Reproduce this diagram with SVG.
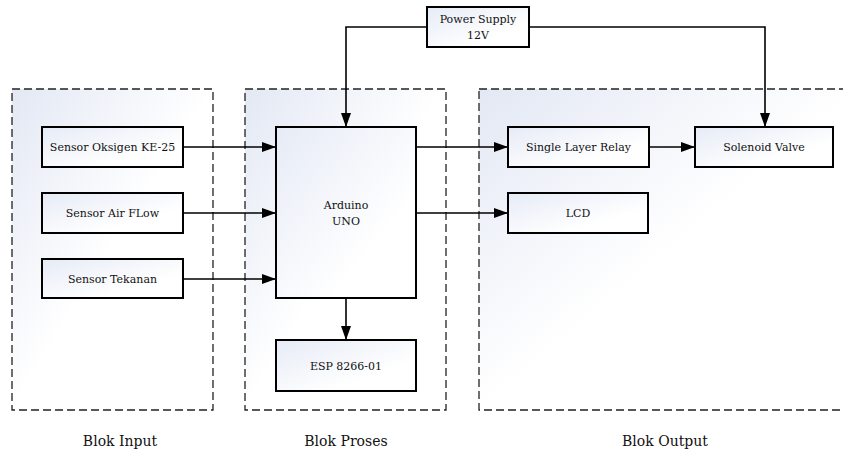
<svg xmlns="http://www.w3.org/2000/svg" width="843" height="458" viewBox="0 0 843 458">
<style>
.grp{stroke:#222;stroke-width:1.3;stroke-dasharray:8 4;fill:url(#gg)}
.box{stroke:#000;stroke-width:2;fill:url(#bg)}
text{fill:#111;text-anchor:middle;font-family:'DejaVu Serif',serif}
.t{font-size:11px}
.lab{font-size:14px}
.c{stroke:#000;stroke-width:1.6;fill:none;marker-end:url(#ah)}
</style>
<defs>
<linearGradient id="gg" x1="0" y1="0" x2="1" y2="1">
<stop offset="0" stop-color="#e3e8f4"/>
<stop offset="0.5" stop-color="#ffffff"/>
</linearGradient>
<linearGradient id="bg" x1="0" y1="0" x2="1" y2="1">
<stop offset="0" stop-color="#e6ebf6"/>
<stop offset="0.7" stop-color="#ffffff"/>
</linearGradient>
<marker id="ah" markerWidth="14" markerHeight="10" refX="14" refY="5" orient="auto" markerUnits="userSpaceOnUse">
<path d="M0,0 L14,5 L0,10 Z" fill="#000"/>
</marker>
</defs>
<rect width="843" height="458" fill="#fff"/>
<g id="blok-input"><rect class="grp" x="12" y="89" width="201" height="321"/><text class="lab" x="120" y="446">Blok Input</text></g>
<g id="blok-proses"><rect class="grp" x="245" y="89" width="201" height="321"/><text class="lab" x="346" y="446">Blok Proses</text></g>
<g id="blok-output"><rect class="grp" x="479" y="89" width="380" height="321"/><text class="lab" x="665" y="446">Blok Output</text></g>
<g id="sensor-oksigen"><rect class="box" x="42" y="127" width="141" height="40"/><text class="t" x="112.5" y="151">Sensor Oksigen KE-25</text></g>
<g id="sensor-airflow"><rect class="box" x="42" y="193" width="141" height="40"/><text class="t" x="112.5" y="217">Sensor Air FLow</text></g>
<g id="sensor-tekanan"><rect class="box" x="42" y="259" width="141" height="39"/><text class="t" x="112.5" y="282.5">Sensor Tekanan</text></g>
<g id="arduino"><rect class="box" x="276" y="127" width="140" height="171"/><text class="t" x="346" y="209">Arduino</text><text class="t" x="346" y="225">UNO</text></g>
<g id="esp"><rect class="box" x="276" y="340" width="140" height="51"/><text class="t" x="346" y="369.5">ESP 8266-01</text></g>
<g id="power-supply"><rect class="box" x="427" y="7" width="102" height="40"/><text class="t" x="478" y="23">Power Supply</text><text class="t" x="478" y="39">12V</text></g>
<g id="relay"><rect class="box" x="508" y="127" width="141" height="40"/><text class="t" x="578.5" y="151">Single Layer Relay</text></g>
<g id="lcd"><rect class="box" x="508" y="193" width="140" height="40"/><text class="t" x="578" y="217">LCD</text></g>
<g id="solenoid"><rect class="box" x="695" y="127" width="138" height="40"/><text class="t" x="764" y="151">Solenoid Valve</text></g>
<g id="connectors">
<path class="c" d="M183,147 H276"/>
<path class="c" d="M183,213 H276"/>
<path class="c" d="M183,279 H276"/>
<path class="c" d="M416,147 H508"/>
<path class="c" d="M416,213 H508"/>
<path class="c" d="M649,147 H695"/>
<path class="c" d="M346,298 V340"/>
<path class="c" d="M427,27 H346 V127"/>
<path class="c" d="M529,27 H765 V127"/>
</g>
</svg>
